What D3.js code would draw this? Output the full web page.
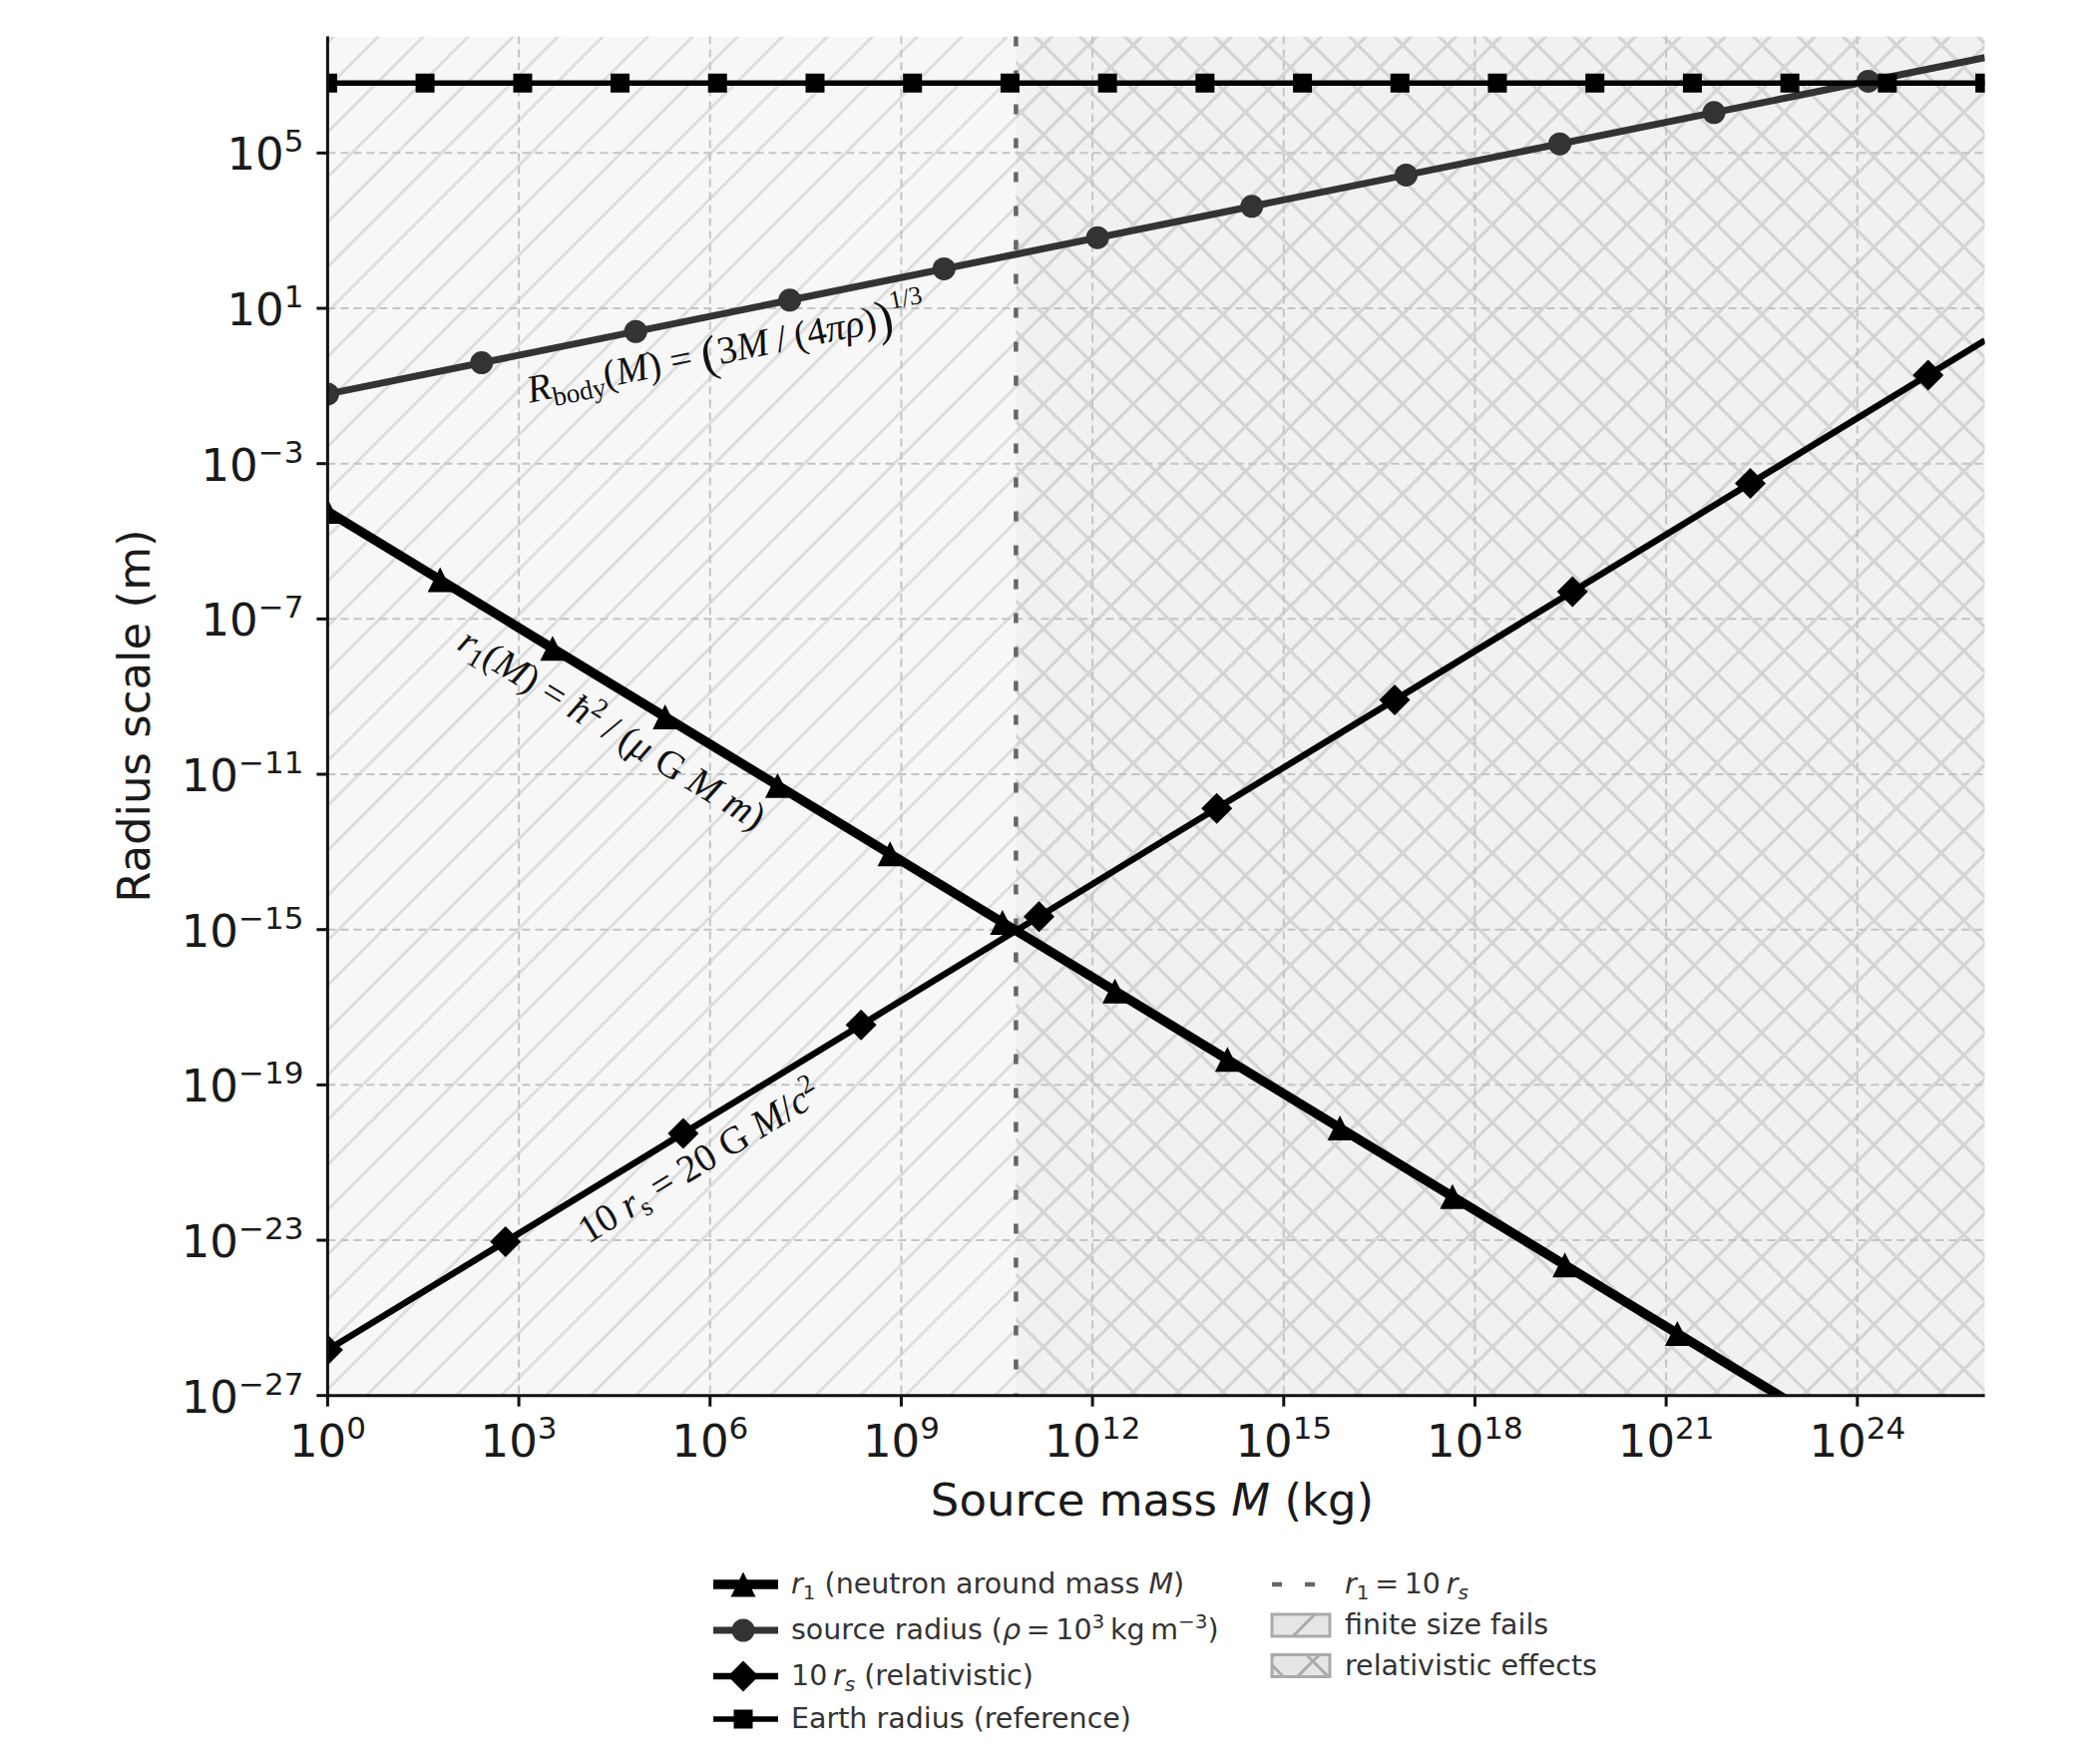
<!DOCTYPE html>
<html>
<head>
<meta charset="utf-8">
<script src="https://cdn.jsdelivr.net/npm/d3@7"></script>
<style>
  html, body { margin: 0; padding: 0; background: #ffffff; }
  svg { display: block; }
</style>
</head>
<body>
<svg id="chart" width="2094" height="1768"></svg>
<script>
// ---------------- DATA ----------------
const xTickExponents = [0, 3, 6, 9, 12, 15, 18, 21, 24];
const yTickExponents = [5, 1, -3, -7, -11, -15, -19, -23, -27];
const xTickValues = [1e0, 1e3, 1e6, 1e9, 1e12, 1e15, 1e18, 1e21, 1e24];
const yTickValues = [1e5, 1e1, 1e-3, 1e-7, 1e-11, 1e-15, 1e-19, 1e-23, 1e-27];

// r1 (neutron around mass M) – marker points
const r1Mass   = [1, 58.2, 3.39e3, 1.97e5, 1.15e7, 6.67e8, 3.87e10, 2.25e12, 1.31e14, 7.62e15, 4.44e17, 2.58e19, 1.50e21];
const r1Radius = [5.93e-5, 1.02e-6, 1.75e-8, 3.01e-10, 5.18e-12, 8.89e-14, 1.53e-15, 2.63e-17, 4.52e-19, 7.78e-21, 1.34e-22, 2.30e-24, 3.95e-26];
const r1LineMass   = [1, 1e26];
const r1LineRadius = [5.93e-5, 5.93e-31];

// source radius (rho = 1e3 kg m^-3)
const bodyMass   = [1, 261, 6.82e4, 1.78e7, 4.68e9, 1.20e12, 3.16e14, 8.32e16, 2.14e19, 5.62e21, 1.48e24];
const bodyRadius = [0.0620, 0.396, 2.53, 16.2, 104, 659, 4230, 2.70e4, 1.72e5, 1.10e6, 7.07e6];
const bodyLineMass   = [1, 1e26];
const bodyLineRadius = [0.0620, 2.88e7];

// 10 r_s (relativistic)
const rsMass   = [1, 617, 3.80e5, 2.34e8, 1.45e11, 8.91e13, 5.50e16, 3.39e19, 2.09e22, 1.29e25];
const rsRadius = [1.49e-26, 9.16e-24, 5.65e-21, 3.48e-18, 2.15e-15, 1.32e-12, 8.17e-10, 5.04e-7, 3.10e-4, 0.191];
const rsLineMass   = [1, 1e26];
const rsLineRadius = [1.49e-26, 1.49];

// Earth radius (reference)
const earthMass   = [1, 33.8, 1.15e3, 3.87e4, 1.31e6, 4.44e7, 1.50e9, 5.08e10, 1.72e12, 5.82e13, 1.97e15, 6.66e16, 2.25e18, 7.62e19, 2.58e21, 8.73e22, 2.95e24, 1e26];
const earthRadius = [6.371e6, 6.371e6, 6.371e6, 6.371e6, 6.371e6, 6.371e6, 6.371e6, 6.371e6, 6.371e6, 6.371e6, 6.371e6, 6.371e6, 6.371e6, 6.371e6, 6.371e6, 6.371e6, 6.371e6, 6.371e6];

// r1 = 10 r_s crossing mass and shaded regions
const crossMass = 6.3e10;
const regionFinite = [1, 6.3e10];
const regionRelativistic = [6.3e10, 1e26];

// ---------------- LAYOUT ----------------
const svg = d3.select("#chart");
const L = 328.4, R = 1989.6, T = 36.6, B = 1398.7;
const x = d3.scaleLog().domain([1, 1e26]).range([L, R]);
const y = d3.scaleLog().domain([1e-27, 1e8]).range([B, T]);

const SANS = "'DejaVu Sans', sans-serif";
const SERIF = "'Liberation Serif', 'DejaVu Serif', serif";

const defs = svg.append("defs");
defs.append("clipPath").attr("id", "plotClip")
  .append("rect").attr("x", L).attr("y", T).attr("width", R - L).attr("height", B - T);

function hatchPattern(id, color, cross, w) {
  const p = defs.append("pattern").attr("id", id)
    .attr("patternUnits", "userSpaceOnUse")
    .attr("x", 11).attr("y", 0).attr("width", 45).attr("height", 45);
  p.append("path").attr("d", "M-6,6 L6,-6 M0,45 L45,0 M39,51 L51,39")
    .attr("stroke", color).attr("stroke-width", w).attr("fill", "none");
  if (cross) {
    p.append("path").attr("d", "M-6,39 L6,51 M0,0 L45,45 M39,-6 L51,6")
      .attr("stroke", color).attr("stroke-width", w).attr("fill", "none");
  }
}
hatchPattern("hatchFwd", "#dddddd", false, 3);
hatchPattern("hatchX", "#d4d4d4", true, 3.2);
hatchPattern("hatchFwdLeg", "#aaaaaa", false, 3);
hatchPattern("hatchXLeg", "#aaaaaa", true, 3);

// ---------------- REGIONS ----------------
const regions = svg.append("g").attr("clip-path", "url(#plotClip)");
regions.append("rect")
  .attr("x", x(regionFinite[0])).attr("y", T)
  .attr("width", x(regionFinite[1]) - x(regionFinite[0])).attr("height", B - T)
  .attr("fill", "#f7f7f7");
regions.append("rect")
  .attr("x", x(regionFinite[0])).attr("y", T)
  .attr("width", x(regionFinite[1]) - x(regionFinite[0])).attr("height", B - T)
  .attr("fill", "url(#hatchFwd)");
regions.append("rect")
  .attr("x", x(regionRelativistic[0])).attr("y", T)
  .attr("width", x(regionRelativistic[1]) - x(regionRelativistic[0])).attr("height", B - T)
  .attr("fill", "#f1f1f1");
regions.append("rect")
  .attr("x", x(regionRelativistic[0])).attr("y", T)
  .attr("width", x(regionRelativistic[1]) - x(regionRelativistic[0])).attr("height", B - T)
  .attr("fill", "url(#hatchX)");

// ---------------- GRID ----------------
const grid = svg.append("g");
xTickValues.forEach(v => {
  grid.append("line").attr("x1", x(v)).attr("x2", x(v)).attr("y1", T).attr("y2", B)
    .attr("stroke", "#c4c4c4").attr("stroke-width", 2).attr("stroke-dasharray", "8,5");
});
yTickValues.forEach(v => {
  grid.append("line").attr("x1", L).attr("x2", R).attr("y1", y(v)).attr("y2", y(v))
    .attr("stroke", "#c4c4c4").attr("stroke-width", 2).attr("stroke-dasharray", "8,5");
});

// ---------------- CROSSING LINE ----------------
svg.append("line").attr("x1", x(crossMass)).attr("x2", x(crossMass)).attr("y1", T).attr("y2", B)
  .attr("stroke", "#666666").attr("stroke-width", 4.5).attr("stroke-dasharray", "10,24");

// ---------------- SERIES ----------------
const plot = svg.append("g").attr("clip-path", "url(#plotClip)");
const lineGen = d3.line().x(d => x(d[0])).y(d => y(d[1]));

const markerPath = {
  triangle: s => `M0,${-s/2} L${s/2},${s/2} L${-s/2},${s/2} Z`,
  circle: s => `M${s/2},0 A${s/2},${s/2} 0 1,1 ${-s/2},0 A${s/2},${s/2} 0 1,1 ${s/2},0 Z`,
  diamond: s => `M0,${-s/2} L${s/2},0 L0,${s/2} L${-s/2},0 Z`,
  square: s => `M${-s/2},${-s/2} L${s/2},${-s/2} L${s/2},${s/2} L${-s/2},${s/2} Z`
};

const series = [
  { lm: r1LineMass, lr: r1LineRadius, m: r1Mass, r: r1Radius, color: "#000000", w: 9.5, marker: "triangle", ms: 25 },
  { lm: bodyLineMass, lr: bodyLineRadius, m: bodyMass, r: bodyRadius, color: "#333333", w: 7, marker: "circle", ms: 23 },
  { lm: rsLineMass, lr: rsLineRadius, m: rsMass, r: rsRadius, color: "#000000", w: 6.5, marker: "diamond", ms: 31 },
  { lm: earthMass, lr: earthRadius, m: earthMass, r: earthRadius, color: "#000000", w: 5.5, marker: "square", ms: 19 }
];

series.forEach(s => {
  const pts = s.lm.map((m, i) => [m, s.lr[i]]);
  plot.append("path").attr("d", lineGen(pts))
    .attr("fill", "none").attr("stroke", s.color).attr("stroke-width", s.w);
  s.m.forEach((m, i) => {
    plot.append("path").attr("d", markerPath[s.marker](s.ms))
      .attr("transform", `translate(${x(m)},${y(s.r[i])})`)
      .attr("fill", s.color);
  });
});

// ---------------- ANNOTATIONS ----------------
function addRuns(textSel, runs, baseSize) {
  runs.forEach(r => {
    const t = textSel.append("tspan").text(r.t);
    t.attr("font-size", r.size || baseSize);
    if (r.it) t.attr("font-style", "italic");
    if (r.dy) t.attr("dy", r.dy);
  });
}
function angleOf(mArr, rArr) {
  const dx = x(mArr[1]) - x(mArr[0]);
  const dy = y(rArr[1]) - y(rArr[0]);
  return Math.atan2(dy, dx) * 180 / Math.PI;
}
const AS = 39;
// R_body
{
  const px = x(1.95e6), py = y(0.40);
  const t = svg.append("text").attr("transform", `translate(${px},${py}) rotate(${angleOf(bodyLineMass, bodyLineRadius)})`)
    .attr("text-anchor", "middle").attr("font-family", SERIF).attr("fill", "#111");
  addRuns(t, [
    { t: "R", it: true },
    { t: "body", size: 27, dy: 8 },
    { t: "(", dy: -8 }, { t: "M", it: true }, { t: ") = " },
    { t: "(", size: 50, dy: 4 }, { t: "3", dy: -4 }, { t: "M", it: true }, { t: "\u2009/\u2009(4" }, { t: "πρ", it: true }, { t: ")" },
    { t: ")", size: 50, dy: 4 }, { t: "1/3", size: 26, dy: -24 }
  ], AS);
}
// r1
{
  const px = x(2.3e4), py = y(7.8e-11);
  const t = svg.append("text").attr("transform", `translate(${px},${py}) rotate(${angleOf(r1LineMass, r1LineRadius)})`)
    .attr("text-anchor", "middle").attr("font-family", SERIF).attr("fill", "#111");
  addRuns(t, [
    { t: "r", it: true }, { t: "1", size: 27, dy: 7 },
    { t: "(", dy: -7 }, { t: "M", it: true }, { t: ") = " }, { t: "ħ", it: true },
    { t: "2", size: 27, dy: -15 }, { t: "\u2009/\u2009(", dy: 15 }, { t: "μ", it: true }, { t: " G " }, { t: "M", it: true }, { t: " " }, { t: "m", it: true }, { t: ")" }
  ], AS);
}
// 10 r_s
{
  const px = x(8.6e5), py = y(5.6e-22);
  const t = svg.append("text").attr("transform", `translate(${px},${py}) rotate(${angleOf(rsLineMass, rsLineRadius)})`)
    .attr("text-anchor", "middle").attr("font-family", SERIF).attr("fill", "#111");
  addRuns(t, [
    { t: "10 " }, { t: "r", it: true }, { t: "s", size: 27, dy: 7 },
    { t: " = 20 G ", dy: -7 }, { t: "M", it: true }, { t: "/" }, { t: "c", it: true }, { t: "2", size: 27, dy: -15 }
  ], AS);
}

// ---------------- AXES ----------------
const axes = svg.append("g");
axes.append("line").attr("x1", L).attr("x2", L).attr("y1", T).attr("y2", B + 1.5)
  .attr("stroke", "#111").attr("stroke-width", 3);
axes.append("line").attr("x1", L - 1.5).attr("x2", R).attr("y1", B).attr("y2", B)
  .attr("stroke", "#111").attr("stroke-width", 3);

const TICKFS = 45, SUPFS = 31;
xTickValues.forEach((v, i) => {
  axes.append("line").attr("x1", x(v)).attr("x2", x(v)).attr("y1", B).attr("y2", B + 11)
    .attr("stroke", "#111").attr("stroke-width", 3);
  const t = axes.append("text").attr("x", x(v)).attr("y", B + 61)
    .attr("text-anchor", "middle").attr("font-family", SANS).attr("fill", "#1a1a1a");
  addRuns(t, [{ t: "10" }, { t: String(xTickExponents[i]).replace("-", "−"), size: SUPFS, dy: -18 }], TICKFS);
});
yTickValues.forEach((v, i) => {
  axes.append("line").attr("x1", L - 11).attr("x2", L).attr("y1", y(v)).attr("y2", y(v))
    .attr("stroke", "#111").attr("stroke-width", 3);
  const t = axes.append("text").attr("x", L - 24).attr("y", y(v) + 17)
    .attr("text-anchor", "end").attr("font-family", SANS).attr("fill", "#1a1a1a");
  addRuns(t, [{ t: "10" }, { t: String(yTickExponents[i]).replace("-", "−"), size: SUPFS, dy: -18 }], TICKFS);
});

// axis labels
{
  const t = svg.append("text").attr("x", (L + R) / 2 - 4).attr("y", 1519)
    .attr("text-anchor", "middle").attr("font-family", SANS).attr("fill", "#1a1a1a");
  addRuns(t, [{ t: "Source mass " }, { t: "M", it: true }, { t: " (kg)" }], 45);
}
svg.append("text").attr("transform", `translate(150,${(T + B) / 2}) rotate(-90)`)
  .attr("text-anchor", "middle").attr("font-family", SANS).attr("font-size", 45).attr("fill", "#1a1a1a")
  .text("Radius scale (m)");

// ---------------- LEGEND ----------------
const leg = svg.append("g");
const LFS = 28.5;
const col1 = [
  { y: 1588, s: series[0], runs: [{ t: "r", it: true }, { t: "1", size: 20, dy: 6 }, { t: " (neutron around mass ", dy: -6 }, { t: "M", it: true }, { t: ")" }] },
  { y: 1634, s: series[1], runs: [{ t: "source radius (" }, { t: "ρ", it: true }, { t: "\u2009=\u200910" }, { t: "3", size: 20, dy: -11 }, { t: "\u2009kg\u2009m", dy: 11 }, { t: "−3", size: 20, dy: -11 }, { t: ")", dy: 11 }] },
  { y: 1680, s: series[2], runs: [{ t: "10\u2009" }, { t: "r", it: true }, { t: "s", size: 20, dy: 6, it: true }, { t: " (relativistic)", dy: -6 }] },
  { y: 1723, s: series[3], runs: [{ t: "Earth radius (reference)" }] }
];
col1.forEach(item => {
  leg.append("line").attr("x1", 715).attr("x2", 780).attr("y1", item.y).attr("y2", item.y)
    .attr("stroke", item.s.color).attr("stroke-width", item.s.w);
  leg.append("path").attr("d", markerPath[item.s.marker](item.s.ms))
    .attr("transform", `translate(745,${item.y})`).attr("fill", item.s.color);
  const t = leg.append("text").attr("x", 793).attr("y", item.y + 9)
    .attr("font-family", SANS).attr("fill", "#333");
  addRuns(t, item.runs, LFS);
});
// column 2
leg.append("line").attr("x1", 1275).attr("x2", 1333).attr("y1", 1588).attr("y2", 1588)
  .attr("stroke", "#666").attr("stroke-width", 4.5).attr("stroke-dasharray", "10,23");
{
  const t = leg.append("text").attr("x", 1348).attr("y", 1597).attr("font-family", SANS).attr("fill", "#333");
  addRuns(t, [{ t: "r", it: true }, { t: "1", size: 20, dy: 6 }, { t: "\u2009=\u200910\u2009", dy: -6 }, { t: "r", it: true }, { t: "s", size: 20, dy: 6, it: true }], LFS);
}
[{ y: 1629, pat: "hatchFwdLeg", label: "finite size fails" }, { y: 1669.5, pat: "hatchXLeg", label: "relativistic effects" }].forEach(p => {
  leg.append("rect").attr("x", 1275).attr("y", p.y - 11).attr("width", 58).attr("height", 22)
    .attr("fill", "#e6e6e6");
  leg.append("rect").attr("x", 1275).attr("y", p.y - 11).attr("width", 58).attr("height", 22)
    .attr("fill", `url(#${p.pat})`).attr("stroke", "#aaaaaa").attr("stroke-width", 3);
  leg.append("text").attr("x", 1348).attr("y", p.y + 9).attr("font-family", SANS)
    .attr("font-size", LFS).attr("fill", "#333").text(p.label);
});
</script>
</body>
</html>
